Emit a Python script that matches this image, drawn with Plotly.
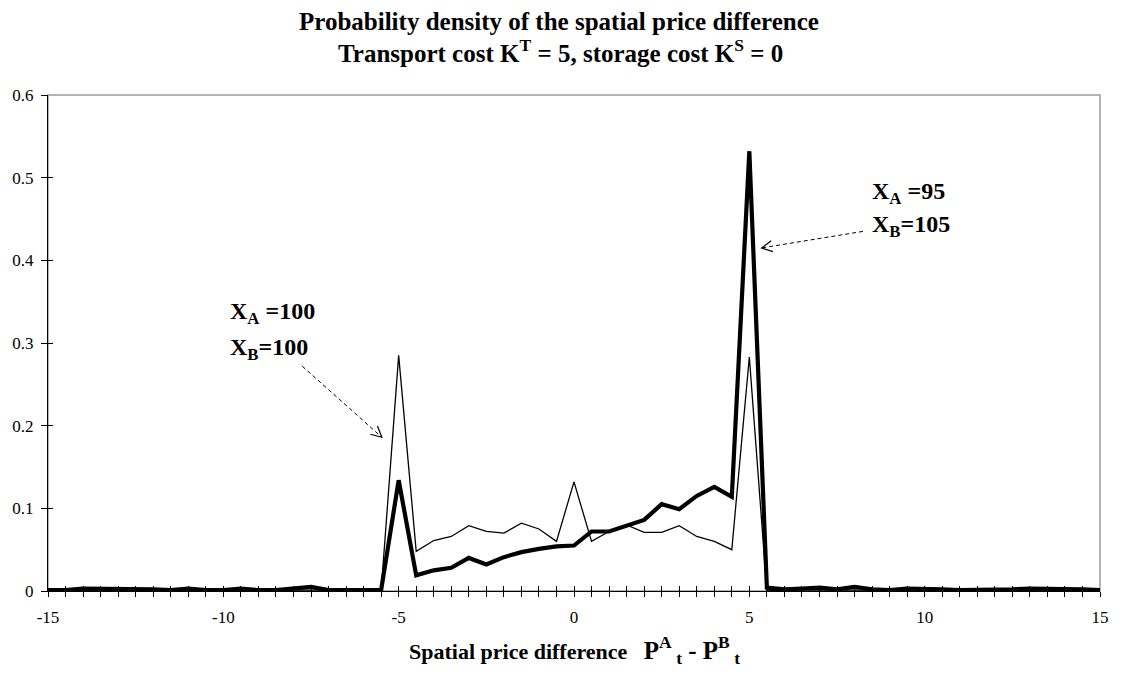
import math
import plotly.graph_objects as go

# ---- data ----
x_vals = [i * 0.5 for i in range(-30, 31)]  # -15 .. 15 step 0.5

# thick line (X_A=95, X_B=105)
dens_95_105 = [
    0.001, 0.001, 0.003, 0.003, 0.002, 0.002, 0.002, 0.001, 0.003, 0.001,   # -15 .. -10.5
    0.001, 0.003, 0.001, 0.001, 0.003, 0.005, 0.001, 0.001, 0.002, 0.001,   # -10 .. -5.5
    0.134, 0.019, 0.025, 0.028, 0.040, 0.032, 0.041, 0.047, 0.051, 0.054,   # -5 .. -0.5
    0.055, 0.072, 0.072, 0.079, 0.086, 0.105, 0.099, 0.115, 0.126, 0.114,   # 0 .. 4.5
    0.532, 0.004, 0.002, 0.003, 0.004, 0.002, 0.005, 0.002, 0.001, 0.003,   # 5 .. 9.5
    0.003, 0.002, 0.001, 0.001, 0.001, 0.002, 0.003, 0.003, 0.002, 0.002,   # 10 .. 14.5
    0.001,                                                                  # 15
]

# thin line (X_A=100, X_B=100)
dens_100_100 = [
    0.001, 0.001, 0.001, 0.001, 0.001, 0.001, 0.001, 0.001, 0.001, 0.001,
    0.001, 0.001, 0.001, 0.001, 0.001, 0.001, 0.001, 0.001, 0.001, 0.000,
    0.285, 0.048, 0.061, 0.066, 0.079, 0.072, 0.070, 0.082, 0.075, 0.060,
    0.132, 0.060, 0.072, 0.080, 0.071, 0.071, 0.079, 0.066, 0.060, 0.050,
    0.283, 0.000, 0.001, 0.001, 0.001, 0.001, 0.001, 0.001, 0.001, 0.001,
    0.001, 0.001, 0.001, 0.001, 0.001, 0.001, 0.001, 0.001, 0.001, 0.001,
    0.001,
]

x_label_vals = [-15, -10, -5, 0, 5, 10, 15]
x_label_text = ["-15", "-10", "-5", "0", "5", "10", "15"]
y_tick_vals = [0, 0.1, 0.2, 0.3, 0.4, 0.5, 0.6]
y_tick_text = ["0", "0.1", "0.2", "0.3", "0.4", "0.5", "0.6"]

FONT = "Liberation Serif"

fig = go.Figure()
fig.add_trace(go.Scatter(x=x_vals, y=dens_100_100, mode="lines",
                         line=dict(color="black", width=1.3), showlegend=False))
fig.add_trace(go.Scatter(x=x_vals, y=dens_95_105, mode="lines",
                         line=dict(color="black", width=4.2), showlegend=False))
# invisible trace for the overlay axes (inside half of the crossing ticks)
fig.add_trace(go.Scatter(x=[x_vals[0]], y=[0], xaxis="x2", yaxis="y2", mode="markers",
                         marker=dict(opacity=0), showlegend=False, hoverinfo="skip"))

L, R, T, B = 48, 14, 95, 84
W, H = 1121, 675
plot_w = W - L - R
plot_h = H - T - B
sx = plot_w / 30.0
sy = plot_h / 0.6

fig.update_layout(
    width=W, height=H,
    margin=dict(l=L, r=R, t=T, b=B),
    plot_bgcolor="white", paper_bgcolor="white",
    font=dict(family=FONT, size=17, color="black"),
    xaxis=dict(range=[-15, 15], tickmode="array", tickvals=x_label_vals, ticktext=x_label_text,
               ticks="outside", ticklen=5, tickcolor="black", tickwidth=1,
               minor=dict(dtick=0.5, tick0=0, ticks="outside", ticklen=5,
                          tickcolor="black", tickwidth=1, showgrid=False),
               showline=True, linecolor="black", linewidth=1, showgrid=False,
               zeroline=False, tickfont=dict(family=FONT, size=17),
               ticklabelstandoff=6),
    xaxis2=dict(range=[-15, 15], overlaying="x", anchor="y2", side="bottom",
                tickmode="array", tickvals=x_vals, showticklabels=False,
                ticks="inside", ticklen=5, tickcolor="black", tickwidth=1,
                showline=False, showgrid=False, zeroline=False),
    yaxis=dict(range=[0, 0.6], tickmode="array", tickvals=y_tick_vals, ticktext=y_tick_text,
               ticks="outside", ticklen=6, tickcolor="black",
               showline=True, linecolor="black", linewidth=1, showgrid=False,
               zeroline=False, tickfont=dict(family=FONT, size=17),
               ticklabelstandoff=4),
    yaxis2=dict(range=[0, 0.6], overlaying="y", anchor="x2", side="left",
                tickmode="array", tickvals=y_tick_vals, showticklabels=False,
                ticks="inside", ticklen=5, tickcolor="black",
                showline=False, showgrid=False, zeroline=False),
)

# gray plot-area border (top and right)
fig.add_shape(type="rect", xref="paper", yref="paper", x0=0, x1=1, y0=0, y1=1,
              line=dict(color="#9a9a9a", width=1.5), layer="below")

def py(pix):
    return (H - B - pix) / plot_h

def px(pix):
    return (pix - L) / plot_w

NB = "\u00a0"

# titles (centred on the page)
fig.add_annotation(xref="paper", yref="paper", x=px(562), y=py(21), showarrow=False,
                   text="<b>Probability density of the spatial price difference</b>",
                   font=dict(family=FONT, size=25), yanchor="middle")
fig.add_annotation(xref="paper", yref="paper", x=px(564), y=py(51), showarrow=False,
                   text="<b>Transport cost K<sup>T</sup> = 5, storage cost K<sup>S</sup> = 0</b>",
                   font=dict(family=FONT, size=25), yanchor="middle")
fig.add_annotation(xref="paper", yref="paper", x=px(578), y=py(650), showarrow=False,
                   text=("<b>Spatial price difference" + NB * 3 +
                         "<span style='font-size:25px'>P<sup>A</sup><sub>" + NB + "t</sub>"
                         + NB + "-" + NB + "P<sup>B</sup><sub>" + NB + "t</sub></span></b>"),
                   font=dict(family=FONT, size=22), yanchor="middle")

# series labels
lab_font = dict(family=FONT, size=24)
fig.add_annotation(x=-9.86, y=0.336, text="<b>X<sub>A</sub> =100</b>", showarrow=False,
                   xanchor="left", yanchor="middle", font=lab_font)
fig.add_annotation(x=-9.86, y=0.293, text="<b>X<sub>B</sub>=100</b>", showarrow=False,
                   xanchor="left", yanchor="middle", font=lab_font)
fig.add_annotation(x=8.45, y=0.481, text="<b>X<sub>A</sub> =95</b>", showarrow=False,
                   xanchor="left", yanchor="middle", font=lab_font)
fig.add_annotation(x=8.45, y=0.442, text="<b>X<sub>B</sub>=105</b>", showarrow=False,
                   xanchor="left", yanchor="middle", font=lab_font)

def dashed_arrow(x0, y0, x1, y1):
    fig.add_shape(type="line", x0=x0, y0=y0, x1=x1, y1=y1, xref="x", yref="y",
                  line=dict(color="black", width=1, dash="4px,3px"))
    # open V head, computed in pixel space
    dxp = (x1 - x0) * sx
    dyp = -(y1 - y0) * sy
    n = math.hypot(dxp, dyp)
    ux, uy = dxp / n, dyp / n
    arm = 12
    pts = []
    for ang in (math.radians(27), -math.radians(27)):
        bx = -(ux * math.cos(ang) - uy * math.sin(ang)) * arm
        by = -(ux * math.sin(ang) + uy * math.cos(ang)) * arm
        pts.append((x1 + bx / sx, y1 - by / sy))
    path = f"M {pts[0][0]},{pts[0][1]} L {x1},{y1} L {pts[1][0]},{pts[1][1]}"
    fig.add_shape(type="path", path=path, xref="x", yref="y",
                  line=dict(color="black", width=1.2))

dashed_arrow(-7.75, 0.272, -5.48, 0.186)
dashed_arrow(8.24, 0.435, 5.35, 0.415)

fig.write_html("out.html")
